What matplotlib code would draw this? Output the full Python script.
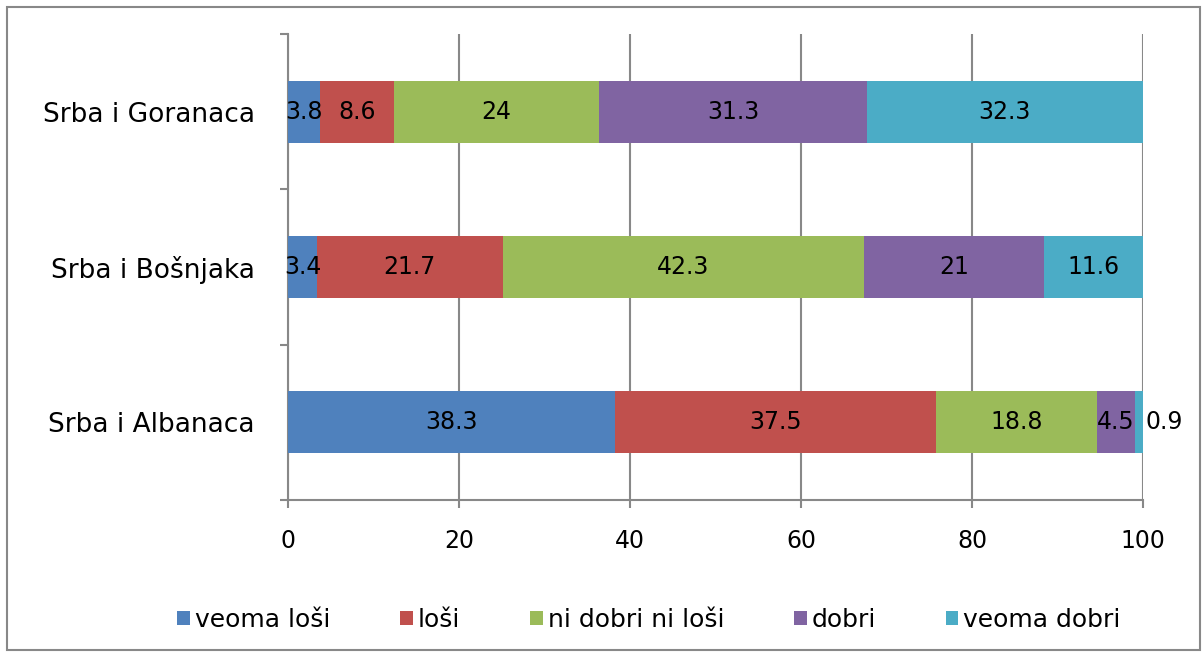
import matplotlib
matplotlib.use("Agg")
import matplotlib.pyplot as plt
import numpy as np
from matplotlib.patches import Rectangle

categories = ["Srba i Albanaca", "Srba i Bošnjaka", "Srba i Goranaca"]
series_names = ["veoma loši", "loši", "ni dobri ni loši", "dobri", "veoma dobri"]
veoma_losi = [38.3, 3.4, 3.8]
losi = [37.5, 21.7, 8.6]
ni_dobri_ni_losi = [18.8, 42.3, 24]
dobri = [4.5, 21, 31.3]
veoma_dobri = [0.9, 11.6, 32.3]
colors = ["#4F81BD", "#C0504D", "#9BBB59", "#8064A2", "#4BACC6"]
xticks = [0, 20, 40, 60, 80, 100]

plt.rcParams['font.family'] = ['DejaVu Sans']

fig = plt.figure(figsize=(12.04, 6.54), dpi=100)
fig.patches.append(Rectangle((7/1204, 4/654), 1193/1204, 643/654, transform=fig.transFigure,
                             fill=False, edgecolor="#888888", linewidth=1.5))
ax = fig.add_axes([288/1204, 1-500/654, (1143-288)/1204, (500-34)/654])

data = [veoma_losi, losi, ni_dobri_ni_losi, dobri, veoma_dobri]
y = np.arange(len(categories))
left = np.zeros(len(categories))
for vals, name, c in zip(data, series_names, colors):
    vals = np.array(vals, dtype=float)
    ax.barh(y, vals, left=left, height=0.4, color=c, label=name, zorder=3)
    for yi, (l, v) in enumerate(zip(left, vals)):
        lbl = f"{v:g}"
        if v < 2:
            ax.annotate(lbl, (l + v, yi), xytext=(1.5, 0), textcoords="offset points",
                        ha="left", va="center", fontsize=17, zorder=4)
        else:
            ax.text(l + v / 2, yi, lbl, ha="center", va="center", fontsize=17, zorder=4)
    left += vals

ax.set_xlim(0, 100)
ax.set_ylim(-0.5, 2.5)
ax.set_xticks(xticks)
ax.set_xticklabels([str(t) for t in xticks], fontsize=17)
ax.set_yticks(y)
ax.set_yticklabels(categories, fontsize=19)
ax.set_yticks([-0.5, 0.5, 1.5, 2.5], minor=True)
ax.tick_params(axis="y", which="major", length=0, pad=24)
ax.tick_params(axis="y", which="minor", length=6, color="#888888", width=1.5, direction="out")
ax.tick_params(axis="x", length=6, color="#888888", width=1.5, direction="out", pad=15)
ax.grid(axis="x", color="#888888", linewidth=1.5, zorder=0)
for s in ["top", "right"]:
    ax.spines[s].set_visible(False)
for s in ["left", "bottom"]:
    ax.spines[s].set_color("#888888")
    ax.spines[s].set_linewidth(1.5)

handles, labels = ax.get_legend_handles_labels()
fig.legend(handles, labels, loc="center", bbox_to_anchor=(649/1204, 1-620/654), ncol=5,
           frameon=False, fontsize=18, handlelength=0.5, handleheight=0.5,
           handletextpad=0.2, columnspacing=2.8)

fig.savefig("out.png", dpi=100)
